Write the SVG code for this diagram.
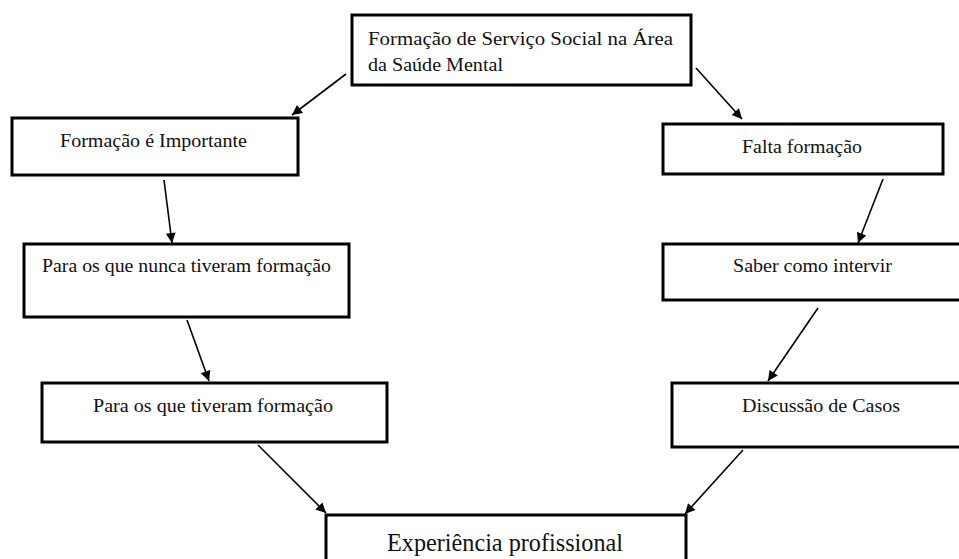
<svg xmlns="http://www.w3.org/2000/svg" width="959" height="559" viewBox="0 0 959 559">
<style>
.box{fill:#fff;stroke:#000;stroke-width:3}
.t{font-family:"Liberation Serif","Times New Roman",serif;font-size:19.5px;fill:#111}
.tb{font-family:"Liberation Serif","Times New Roman",serif;font-size:25px;fill:#111}
.c{stroke:#000;stroke-width:1.6;fill:none;marker-end:url(#ah)}
</style>
<defs>
<marker id="ah" viewBox="0 0 10 10" refX="10" refY="5" markerWidth="11" markerHeight="10" markerUnits="userSpaceOnUse" orient="auto">
<path d="M0,0 L10,5 L0,10 z" fill="#000"/>
</marker>
</defs>
<rect width="959" height="559" fill="#fff"/>
<g id="connectors">
<line class="c" x1="346" y1="74" x2="292" y2="115"/>
<line class="c" x1="696" y1="68" x2="742" y2="119"/>
<line class="c" x1="164" y1="180" x2="172" y2="243"/>
<line class="c" x1="883" y1="179" x2="858" y2="243"/>
<line class="c" x1="187" y1="320" x2="209" y2="381"/>
<line class="c" x1="818" y1="308" x2="768" y2="381"/>
<line class="c" x1="258" y1="445" x2="326" y2="513"/>
<line class="c" x1="743" y1="450" x2="685" y2="514"/>
</g>
<g id="n-top">
<rect class="box" x="352" y="15" width="339" height="70"/>
<text class="t" x="368" y="45" textLength="305" lengthAdjust="spacingAndGlyphs">Formação de Serviço Social na Área</text>
<text class="t" x="368" y="71" textLength="135" lengthAdjust="spacingAndGlyphs">da Saúde Mental</text>
</g>
<g id="n-importante">
<rect class="box" x="12" y="118" width="286" height="57"/>
<text class="t" x="60" y="147" textLength="187" lengthAdjust="spacingAndGlyphs">Formação é Importante</text>
</g>
<g id="n-nunca">
<rect class="box" x="24" y="244" width="325" height="73"/>
<text class="t" x="42" y="272" textLength="289" lengthAdjust="spacingAndGlyphs">Para os que nunca tiveram formação</text>
</g>
<g id="n-tiveram">
<rect class="box" x="42" y="383" width="345" height="59"/>
<text class="t" x="93" y="412" textLength="240" lengthAdjust="spacingAndGlyphs">Para os que tiveram formação</text>
</g>
<g id="n-falta">
<rect class="box" x="663" y="124" width="280" height="50"/>
<text class="t" x="742" y="153" textLength="120" lengthAdjust="spacingAndGlyphs">Falta formação</text>
</g>
<g id="n-saber">
<rect class="box" x="663" y="244" width="305" height="56"/>
<text class="t" x="733" y="272" textLength="159" lengthAdjust="spacingAndGlyphs">Saber como intervir</text>
</g>
<g id="n-discussao">
<rect class="box" x="672" y="383" width="296" height="64"/>
<text class="t" x="742" y="412" textLength="158" lengthAdjust="spacingAndGlyphs">Discussão de Casos</text>
</g>
<g id="n-experiencia">
<rect class="box" x="326" y="515" width="360" height="60"/>
<text class="tb" x="387" y="551" textLength="236" lengthAdjust="spacingAndGlyphs">Experiência profissional</text>
</g>
</svg>
